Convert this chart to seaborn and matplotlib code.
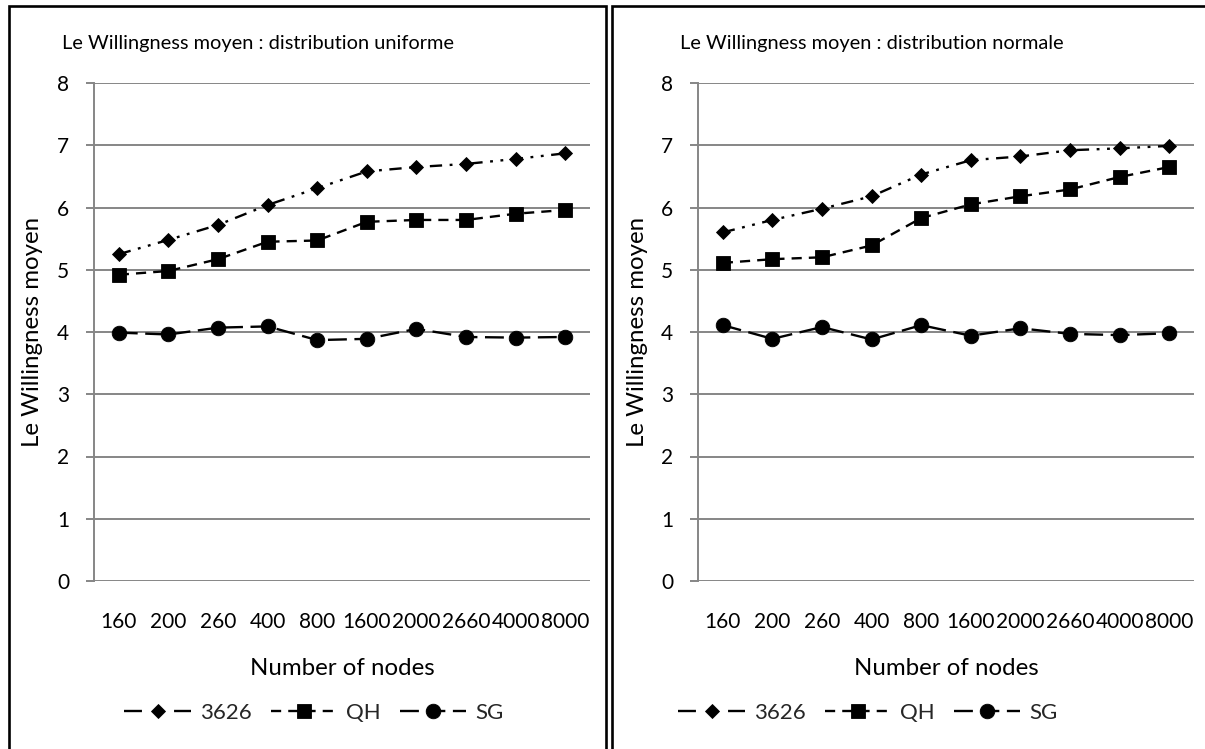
import matplotlib
matplotlib.use("Agg")
import matplotlib.pyplot as plt
from matplotlib.patches import Rectangle
import seaborn as sns
import pandas as pd

# ---------------- data ----------------
nodes = ["160", "200", "260", "400", "800", "1600", "2000", "2660", "4000", "8000"]
series_names = ["3626", "QH", "SG"]

uniform_3626 = [5.25, 5.48, 5.72, 6.04, 6.31, 6.58, 6.65, 6.70, 6.78, 6.87]
uniform_qh = [4.92, 4.98, 5.17, 5.45, 5.47, 5.77, 5.80, 5.80, 5.90, 5.96]
uniform_sg = [3.99, 3.96, 4.07, 4.09, 3.87, 3.89, 4.05, 3.92, 3.91, 3.92]

normal_3626 = [5.60, 5.80, 5.98, 6.18, 6.53, 6.76, 6.82, 6.92, 6.95, 6.99]
normal_qh = [5.11, 5.17, 5.20, 5.39, 5.83, 6.05, 6.18, 6.29, 6.49, 6.65]
normal_sg = [4.11, 3.89, 4.08, 3.88, 4.11, 3.94, 4.06, 3.97, 3.95, 3.98]

titles = ["Le Willingness moyen : distribution uniforme",
          "Le Willingness moyen : distribution normale"]
y_label = "Le Willingness moyen"
x_label = "Number of nodes"
y_ticks = [0, 1, 2, 3, 4, 5, 6, 7, 8]

# ---------------- style ----------------
sns.set_theme(style="white")
plt.rcParams['font.family'] = ['Lato', 'DejaVu Sans']

W, H = 1205, 749
fig = plt.figure(figsize=(W / 100, H / 100), dpi=100)


def fx(px):
    return px / W


def fy(py):
    return 1 - py / H


GRID = "#868686"
markers = {"3626": "D", "QH": "s", "SG": "o"}
msizes = {"3626": 7.5, "QH": 10.0, "SG": 10.5}
dashes = {"3626": (5.2, 3.2, 1.2, 3.2, 1.2, 3.2), "QH": (4.3, 3.0), "SG": (8.0, 3.2)}
legend_dashes = {"3626": (7.6, 13.6), "QH": (4.3, 3.0), "SG": (8.0, 3.2)}

TICK_FS = 15
LABEL_FS = 17.3

panels = [
    dict(data=[uniform_3626, uniform_qh, uniform_sg], ax=(94, 590),
         title_x=62, ylabel_x=33, legend_x=314, frame=(9, 606)),
    dict(data=[normal_3626, normal_qh, normal_sg], ax=(698, 1194),
         title_x=680, ylabel_x=637, legend_x=868, frame=(612, 1215)),
]

for i, p in enumerate(panels):
    # chart frame
    x0, x1 = p["frame"]
    fig.add_artist(Rectangle((fx(x0), fy(760)), fx(x1) - fx(x0), fy(6) - fy(760),
                             transform=fig.transFigure, fill=False,
                             edgecolor="black", linewidth=1.9, clip_on=False))

    a0, a1 = p["ax"]
    ax = fig.add_axes([fx(a0), fy(581), fx(a1) - fx(a0), fy(83) - fy(581)])

    rows = []
    for name, vals in zip(series_names, p["data"]):
        for j, v in enumerate(vals):
            rows.append({"pos": j, "val": v, "series": name})
    df = pd.DataFrame(rows)

    for name in series_names:
        sub = df[df["series"] == name]
        sns.lineplot(data=sub, x="pos", y="val", ax=ax, color="black",
                     linewidth=1.7, marker=markers[name], markersize=msizes[name],
                     markeredgewidth=0.6, markeredgecolor="black",
                     label=name, legend=False)
        ax.lines[-1].set_dashes(dashes[name])

    ax.set_xlim(-0.5, len(nodes) - 0.5)
    ax.set_ylim(0, 8)
    ax.set_xticks(range(len(nodes)))
    ax.set_xticklabels(nodes)
    ax.set_yticks(y_ticks)
    ax.set_yticklabels([str(t) for t in y_ticks])

    ax.grid(axis="y", color=GRID, linewidth=1.4)
    ax.grid(axis="x", visible=False)
    ax.set_axisbelow(True)
    for s in ["top", "right", "bottom"]:
        ax.spines[s].set_visible(False)
    ax.spines["left"].set_color(GRID)
    ax.spines["left"].set_linewidth(1.4)

    ax.tick_params(axis="y", which="major", left=True, length=6, width=1.4,
                   color=GRID, pad=12, labelsize=TICK_FS, labelcolor="black")
    ax.tick_params(axis="x", which="major", bottom=False, length=0, pad=22,
                   labelsize=TICK_FS, labelcolor="black")

    ax.set_xlabel(x_label, fontsize=LABEL_FS, color="black", labelpad=19)
    ax.set_ylabel("")
    fig.text(fx(p["ylabel_x"]), fy(332), y_label, rotation=90, fontsize=LABEL_FS,
             ha="center", va="center", color="black")
    fig.text(fx(p["title_x"]), fy(43), titles[i], fontsize=14.4,
             ha="left", va="center", color="black")

    handles = ax.lines[:3]
    leg = fig.legend(handles=handles, labels=series_names, loc="center",
                     bbox_to_anchor=(fx(p["legend_x"]), fy(713)),
                     bbox_transform=fig.transFigure, ncol=3, frameon=False,
                     fontsize=16, handlelength=3.0, columnspacing=0.85,
                     handletextpad=0.4)
    for line, name in zip(leg.get_lines(), series_names):
        line.set_dashes(legend_dashes[name])

fig.savefig("out.png", dpi=100)
